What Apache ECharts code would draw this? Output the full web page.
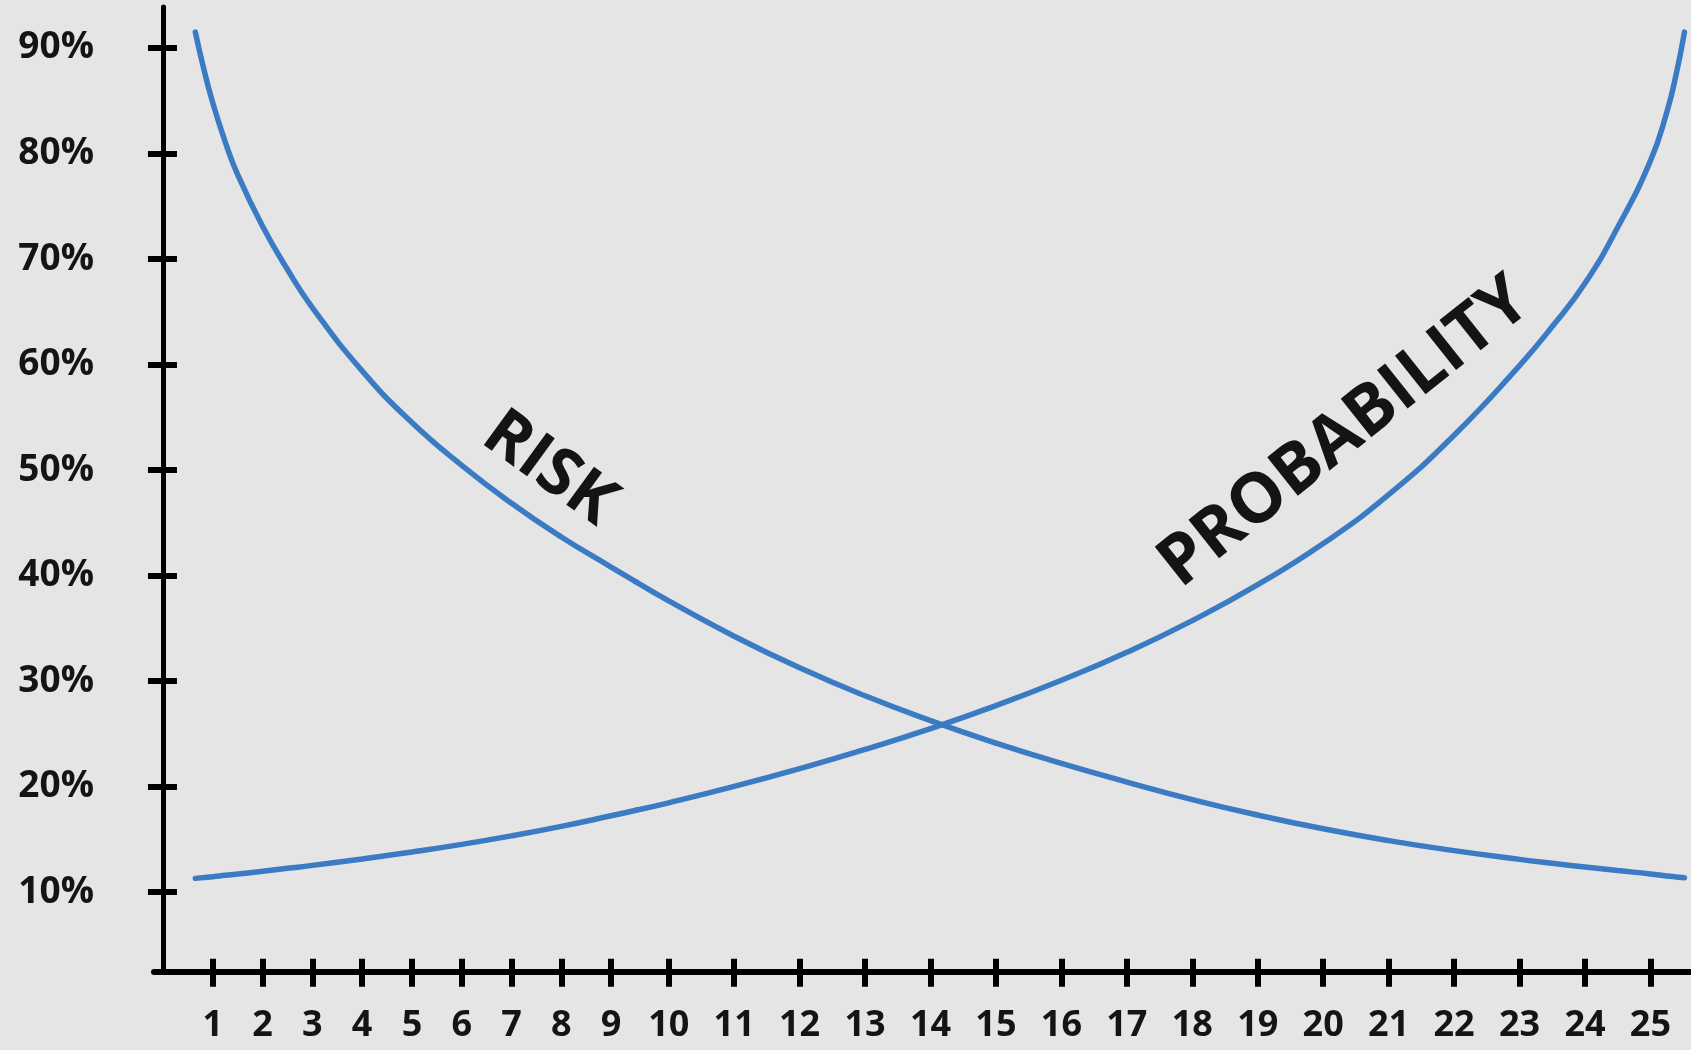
<!DOCTYPE html>
<html>
<head>
<meta charset="utf-8">
<script src="https://cdn.jsdelivr.net/npm/echarts@6/dist/echarts.min.js"></script>
<style>
html, body { margin: 0; padding: 0; background: #e5e5e5; }
#chart { width: 1691px; height: 1050px; }
</style>
</head>
<body>
<div id="chart"></div>
<script>
// ---- data ----
const periodTicks = [1, 2, 3, 4, 5, 6, 7, 8, 9, 10, 11, 12, 13, 14, 15, 16, 17, 18, 19, 20, 21, 22, 23, 24, 25];
const percentTicks = [10, 20, 30, 40, 50, 60, 70, 80, 90];
const samplePeriods = [0.65, 0.8, 1, 1.25, 1.5, 2, 2.5, 3, 4, 5, 6, 7, 8, 9, 9.5, 10, 11, 12, 13, 14, 15, 16, 17, 18, 19, 20, 21, 22, 23, 23.5, 24, 24.5, 25, 25.25, 25.4, 25.52];
const riskValues = [91.5, 88.4, 84.8, 81.1, 78.0, 73.1, 69.0, 65.4, 59.4, 54.5, 50.45, 46.85, 43.65, 40.8, 39.4, 37.6, 34.25, 31.25, 28.6, 26.25, 24.12, 22.2, 20.43, 18.77, 17.3, 16.0, 14.88, 13.93, 13.1, 12.73, 12.38, 12.04, 11.72, 11.53, 11.43, 11.35];
const probabilityValues = [11.3, 11.37, 11.46, 11.59, 11.71, 11.97, 12.25, 12.53, 13.14, 13.8, 14.52, 15.33, 16.23, 17.23, 17.76, 18.46, 20.01, 21.7, 23.52, 25.5, 27.67, 30.07, 32.72, 35.73, 39.13, 43.03, 47.67, 53.3, 59.9, 63.6, 67.7, 73.0, 79.3, 83.9, 87.7, 91.5];
const seriesLabels = ['RISK', 'PROBABILITY'];

// ---- layout / style ----
const splitPeriod = 9.5;
const xRangeA = [-0.18, splitPeriod];
const xRangeB = [splitPeriod, 25.62];
const yRange = [2.455, 93.88];
const lineColor = '#3a7bc3';
const inkColor = '#141414';
const fontFamily = '"Open Sans", "Noto Sans", sans-serif';

function part(values, lo, hi) {
  return samplePeriods
    .map((p, i) => [p, values[i]])
    .filter(d => d[0] >= lo && d[0] <= hi);
}

const ticksA = periodTicks.filter(t => t < splitPeriod);
const ticksB = periodTicks.filter(t => t > splitPeriod);

function xAxisOuter(grid, range, ticks) {
  return {
    type: 'value', gridIndex: grid, min: range[0], max: range[1], position: 'bottom',
    axisLine: { show: true, lineStyle: { color: '#000', width: 6 } },
    axisTick: { show: true, inside: false, length: 15, customValues: ticks, lineStyle: { color: '#000', width: 6 } },
    axisLabel: { show: true, customValues: ticks, margin: 36, fontSize: 36, fontWeight: 'bold', fontFamily: fontFamily, color: inkColor },
    splitLine: { show: false }
  };
}
function xAxisInner(grid, range, ticks) {
  return {
    type: 'value', gridIndex: grid, min: range[0], max: range[1], position: 'bottom',
    axisLine: { show: false },
    axisTick: { show: true, inside: true, length: 13, customValues: ticks, lineStyle: { color: '#000', width: 6 } },
    axisLabel: { show: false },
    splitLine: { show: false }
  };
}

const option = {
  backgroundColor: '#e5e5e5',
  animation: false,
  grid: [
    { left: 154, width: 482, top: 7, bottom: 78.3 },
    { left: 636, right: 0, top: 7, bottom: 78.3 }
  ],
  xAxis: [
    xAxisOuter(0, xRangeA, ticksA),
    xAxisInner(0, xRangeA, ticksA),
    xAxisOuter(1, xRangeB, ticksB),
    xAxisInner(1, xRangeB, ticksB)
  ],
  yAxis: [
    {
      type: 'value', gridIndex: 0, min: yRange[0], max: yRange[1], position: 'left',
      axisLine: { show: true, lineStyle: { color: '#000', width: 5 } },
      axisTick: { show: true, inside: false, length: 15, customValues: percentTicks, lineStyle: { color: '#000', width: 6 } },
      axisLabel: { show: true, customValues: percentTicks, formatter: '{value}%', margin: 60, fontSize: 37, fontWeight: 'bold', fontFamily: fontFamily, color: inkColor },
      splitLine: { show: false }
    },
    {
      type: 'value', gridIndex: 0, min: yRange[0], max: yRange[1], position: 'left',
      axisLine: { show: false },
      axisTick: { show: true, inside: true, length: 14, customValues: percentTicks, lineStyle: { color: '#000', width: 6 } },
      axisLabel: { show: false },
      splitLine: { show: false }
    },
    {
      type: 'value', gridIndex: 1, min: yRange[0], max: yRange[1], show: false,
      splitLine: { show: false }
    }
  ],
  series: [
    { name: seriesLabels[0], data: part(riskValues, xRangeA[0], splitPeriod), xAxisIndex: 0, yAxisIndex: 0 },
    { name: seriesLabels[0], data: part(riskValues, splitPeriod, xRangeB[1]), xAxisIndex: 2, yAxisIndex: 2 },
    { name: seriesLabels[1], data: part(probabilityValues, xRangeA[0], splitPeriod), xAxisIndex: 0, yAxisIndex: 0 },
    { name: seriesLabels[1], data: part(probabilityValues, splitPeriod, xRangeB[1]), xAxisIndex: 2, yAxisIndex: 2 }
  ].map(s => Object.assign({
    type: 'line', smooth: 0.5, symbol: 'none', clip: false,
    lineStyle: { color: lineColor, width: 5.5, cap: 'round' }
  }, s)),
  graphic: [
    {
      type: 'text', x: 549, y: 469, rotation: -36 * Math.PI / 180,
      style: { text: seriesLabels[0], fill: inkColor, font: 'bold 66px ' + fontFamily,
               align: 'center', verticalAlign: 'middle', textAlign: 'center', textVerticalAlign: 'middle' }
    },
    {
      type: 'text', x: 1345, y: 433, rotation: 38.5 * Math.PI / 180,
      style: { text: seriesLabels[1], fill: inkColor, font: 'bold 69px ' + fontFamily,
               align: 'center', verticalAlign: 'middle', textAlign: 'center', textVerticalAlign: 'middle' }
    }
  ]
};

const chart = echarts.init(document.getElementById('chart'), null, { renderer: 'canvas' });
chart.setOption(option);
</script>
</body>
</html>
